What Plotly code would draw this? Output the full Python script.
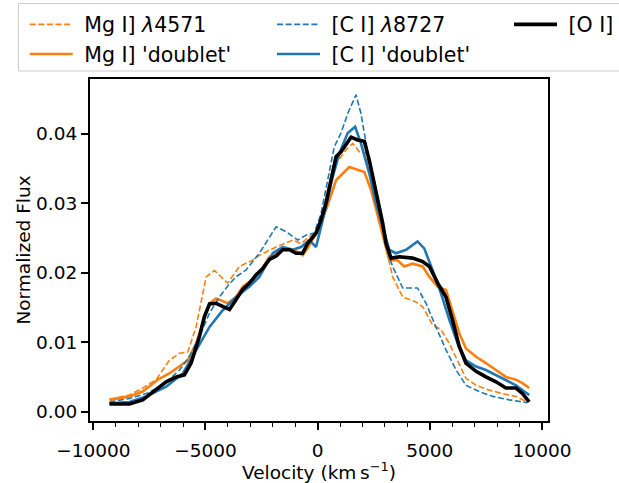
import plotly.graph_objects as go

# ---------------- data ----------------
v_oi = [-9280, -8390, -7800, -7200, -6750, -6300, -5940, -5640, -5270, -5050, -4820, -4530,
        -3930, -3640, -3340, -3040, -2740, -2450, -2150, -1850, -1560, -1260, -960, -670,
        -450, -70, 150, 370, 600, 820, 1040, 1270, 1490, 1780, 2080, 2300, 2600, 2900,
        3050, 3270, 3640, 4230, 4680, 4980, 5350, 5720, 6010, 6310, 6610, 7060, 7500,
        7950, 8390, 8840, 9130, 9430]
f_oi = [0.0011, 0.0011, 0.0017, 0.0031, 0.0043, 0.0050, 0.0053, 0.0070, 0.0108, 0.0137, 0.0155, 0.0156,
        0.0147, 0.0161, 0.0176, 0.0185, 0.0197, 0.0206, 0.0219, 0.0224, 0.0233, 0.0233, 0.0228, 0.0228,
        0.0242, 0.0257, 0.0276, 0.0300, 0.0333, 0.0367, 0.0374, 0.0384, 0.0395, 0.0391, 0.0389, 0.0362,
        0.0319, 0.0271, 0.0242, 0.0221, 0.0223, 0.0221, 0.0216, 0.0209, 0.0185, 0.0165, 0.0132, 0.0094,
        0.0070, 0.0058, 0.0050, 0.0043, 0.0034, 0.0034, 0.0026, 0.0014]

v_mg_d = [-9280, -8390, -7800, -7130, -6610, -6160, -5790, -5420, -5050, -4820, -4530, -4010,
          -3640, -3340, -2900, -2600, -2150, -1410, -1000, -670, -450, -70, 370, 820, 1410,
          1780, 2080, 2380, 2900, 3190, 3560, 3860, 4230, 4680, 4980, 5350, 5720, 6010, 6310,
          6610, 7060, 7500, 7950, 8390, 8840, 9130, 9430]
f_mg_d = [0.0017, 0.0022, 0.0029, 0.0046, 0.0055, 0.0065, 0.0074, 0.0098, 0.0132, 0.0156, 0.0163, 0.0156,
          0.0165, 0.0180, 0.0190, 0.0199, 0.0223, 0.0235, 0.0232, 0.0225, 0.0235, 0.0257, 0.0290, 0.0333,
          0.0352, 0.0348, 0.0345, 0.0319, 0.0252, 0.0218, 0.0218, 0.0209, 0.0213, 0.0209, 0.0194, 0.0180,
          0.0175, 0.0146, 0.0113, 0.0091, 0.0079, 0.0070, 0.0060, 0.0050, 0.0046, 0.0041, 0.0034]

v_c_d = [-9280, -8390, -7640, -6750, -6010, -5420, -4820, -4230, -3640, -3040, -2600, -2000,
         -1560, -1110, -740, -370, -70, 370, 670, 970, 1340, 1670, 1930, 2300, 2600, 2900,
         3190, 3490, 3940, 4450, 4750, 5120, 5500, 5870, 6240, 6610, 7060, 7500, 7950, 8390,
         8840, 9430]
f_c_d = [0.0012, 0.0014, 0.0022, 0.0036, 0.0055, 0.0089, 0.0122, 0.0146, 0.0165, 0.0180, 0.0194, 0.0228,
         0.0237, 0.0233, 0.0237, 0.0247, 0.0237, 0.0295, 0.0338, 0.0372, 0.0401, 0.0410, 0.0386, 0.0343,
         0.0300, 0.0266, 0.0233, 0.0228, 0.0233, 0.0245, 0.0235, 0.0204, 0.0170, 0.0132, 0.0098, 0.0074,
         0.0065, 0.0060, 0.0053, 0.0046, 0.0038, 0.0024]

v_mg_l = [-9280, -8390, -7800, -7200, -6610, -6160, -5790, -5420, -4970, -4600, -4010, -3490,
          -2900, -2600, -1850, -1110, -740, -370, -70, 220, 520, 820, 1270, 1560, 1860, 2160,
          2600, 2970, 3340, 3790, 4380, 4680, 5120, 5500, 5870, 6310, 6610, 7060, 7650, 8240,
          8840, 9350]
f_mg_l = [0.0018, 0.0024, 0.0034, 0.0046, 0.0074, 0.0084, 0.0086, 0.0122, 0.0194, 0.0203, 0.0185, 0.0209,
          0.0218, 0.0225, 0.0237, 0.0247, 0.0242, 0.0252, 0.0257, 0.0285, 0.0329, 0.0357, 0.0377, 0.0386,
          0.0374, 0.0372, 0.0295, 0.0247, 0.0194, 0.0165, 0.0158, 0.0151, 0.0125, 0.0118, 0.0098, 0.0068,
          0.0048, 0.0038, 0.0031, 0.0026, 0.0022, 0.0014]

v_c_l = [-9280, -8390, -7640, -6900, -6160, -5720, -5270, -4820, -4380, -4010, -3640, -3190,
         -2600, -2230, -1850, -1410, -890, -520, -150, 150, 450, 740, 1040, 1340, 1710, 1930,
         2160, 2450, 2750, 3050, 3340, 3790, 4450, 4830, 5270, 5720, 6170, 6610, 7200, 7800,
         8540, 9350]
f_c_l = [0.0014, 0.0019, 0.0026, 0.0038, 0.0060, 0.0079, 0.0108, 0.0142, 0.0165, 0.0181, 0.0194, 0.0204,
         0.0228, 0.0247, 0.0266, 0.0259, 0.0247, 0.0254, 0.0257, 0.0285, 0.0333, 0.0381, 0.0401, 0.0429,
         0.0456, 0.0429, 0.0386, 0.0333, 0.0285, 0.0237, 0.0209, 0.0178, 0.0178, 0.0156, 0.0122, 0.0089,
         0.0060, 0.0038, 0.0029, 0.0022, 0.0017, 0.0013]

x_tickvals = [-10000, -5000, 0, 5000, 10000]
x_ticktext = ["\u221210000", "\u22125000", "0", "5000", "10000"]
y_tickvals = [0.00, 0.01, 0.02, 0.03, 0.04]
y_ticktext = ["0.00", "0.01", "0.02", "0.03", "0.04"]

ORANGE = "#ff7f0e"
BLUE = "#1f77b4"
FONT = "DejaVu Sans"
NB = "\u00a0"

fig = go.Figure()
fig.add_trace(go.Scatter(x=v_mg_l, y=f_mg_l, mode="lines", name=NB + "Mg I] <i>λ</i>4571",
                         line=dict(color=ORANGE, width=1.6, dash="6px,2.6px"), legend="legend"))
fig.add_trace(go.Scatter(x=v_mg_d, y=f_mg_d, mode="lines", name=NB + "Mg I] 'doublet'",
                         line=dict(color=ORANGE, width=2.6), legend="legend"))
fig.add_trace(go.Scatter(x=v_c_l, y=f_c_l, mode="lines", name=NB + "[C I] <i>λ</i>8727",
                         line=dict(color=BLUE, width=1.6, dash="6px,2.6px"), legend="legend2"))
fig.add_trace(go.Scatter(x=v_c_d, y=f_c_d, mode="lines", name=NB + "[C I] 'doublet'",
                         line=dict(color=BLUE, width=2.6), legend="legend2"))
fig.add_trace(go.Scatter(x=v_oi, y=f_oi, mode="lines", name=NB + "[O I]",
                         line=dict(color="black", width=3.6), legend="legend3"))

W, H = 619, 483
L, R, T, B = 90, 71, 79, 62
pw, ph = W - L - R, H - T - B

def px_x(p):
    return (p - L) / pw

def px_y(p):
    return (H - B - p) / ph

leg_common = dict(font=dict(family=FONT, size=20.5, color="black"), bgcolor="rgba(0,0,0,0)",
                  borderwidth=0, xanchor="left", yanchor="top", itemwidth=43,
                  orientation="v", tracegroupgap=0)
fig.update_layout(
    legend=dict(x=px_x(24.7), y=px_y(4.5), **leg_common),
    legend2=dict(x=px_x(272), y=px_y(4.5), **leg_common),
    legend3=dict(x=px_x(509), y=px_y(4.5), **leg_common),
)

fig.add_shape(type="rect", xref="paper", yref="paper",
              x0=px_x(18.5), x1=px_x(640), y0=px_y(71), y1=px_y(3.5),
              line=dict(color="#cccccc", width=1), fillcolor="rgba(0,0,0,0)", layer="above")

axis_common = dict(showline=True, linecolor="black", linewidth=2, mirror=True,
                   ticks="outside", ticklen=7, tickwidth=2, tickcolor="black",
                   showgrid=False, zeroline=False,
                   tickfont=dict(family=FONT, size=18.5, color="black"))
fig.update_xaxes(range=[-10148, 10267], tickvals=x_tickvals, ticktext=x_ticktext,
                 ticklabelstandoff=5,
                 title=dict(text="Velocity (km\u2009s<sup>\u22121</sup>)",
                            font=dict(family=FONT, size=18.5, color="black"), standoff=5),
                 minor=dict(ticks="outside", dtick=1000, ticklen=4, tickwidth=1.2, tickcolor="black"),
                 **axis_common)
fig.update_yaxes(range=[-0.00134, 0.04787], tickvals=y_tickvals, ticktext=y_ticktext,
                 title=dict(text="Normalized Flux",
                            font=dict(family=FONT, size=18.5, color="black"), standoff=1),
                 **axis_common)

fig.update_layout(width=W, height=H, margin=dict(l=L, r=R, t=T, b=B, autoexpand=False),
                  plot_bgcolor="white", paper_bgcolor="white",
                  font=dict(family=FONT, color="black"))

fig.write_html("out.html", config={"displayModeBar": False},
               post_script="document.body.style.margin='0';")
